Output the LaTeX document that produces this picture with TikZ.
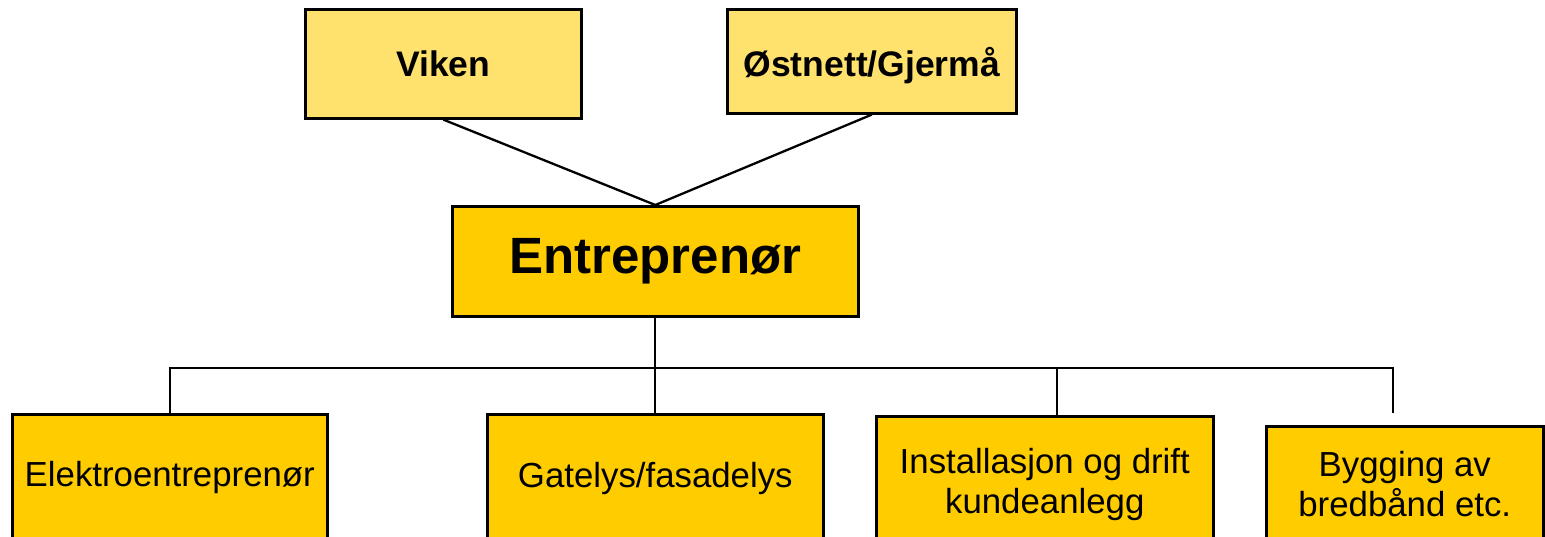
\documentclass[tikz,border=0pt]{standalone}
\usepackage{fontspec}
\setmainfont{Liberation Sans}
\definecolor{lightyel}{HTML}{FFE16E}
\definecolor{darkyel}{HTML}{FFCC00}
\begin{document}
\begin{tikzpicture}[x=1pt,y=-1pt,
  box/.style={draw=black, line width=2.6pt, inner sep=0pt, align=center, anchor=north west},
  topbox/.style={box, fill=lightyel, font=\fontsize{35.5}{40}\selectfont\bfseries},
  midbox/.style={box, fill=darkyel, font=\fontsize{51}{58}\selectfont\bfseries},
  lowbox/.style={box, fill=darkyel, font=\fontsize{34.8}{40}\selectfont},
  conn/.style={draw=black, line width=2.3pt}]
\useasboundingbox (0,0) rectangle (1545,537);
\clip (0,0) rectangle (1545,537);
\fill[white] (0,0) rectangle (1545,537);
\node[topbox, minimum width=276pt, minimum height=109pt] (viken) at (304,8) {Viken};
\node[topbox, minimum width=289pt, minimum height=104pt] (ost) at (726,8) {\raisebox{-4pt}[\height][\depth]{Østnett/Gjermå}};
\node[midbox, minimum width=406pt, minimum height=110pt] (ent) at (451,205) {Entreprenør};
\node[lowbox, minimum width=315pt, minimum height=126pt] (elek) at (11,413) {Elektroentreprenør};
\node[lowbox, minimum width=336pt, minimum height=128pt] (gat) at (486,413) {Gatelys/fasadelys};
\node[lowbox, minimum width=337pt, minimum height=136pt] (inst) at (875,415) {Installasjon og drift\\kundeanlegg};
\node[lowbox, minimum width=277pt, minimum height=116pt] (byg) at (1265,425) {Bygging av\\bredbånd etc.};
\coordinate (hl) at (168,368);
\coordinate (hr) at (1393,368);
\coordinate (bygend) at (1393,413);
\coordinate (insttop) at (1057,415);
\draw[conn] (viken.south) -- (ent.north);
\draw[conn] (ost.south) -- (ent.north);
\draw[conn] (ent.south) -- (gat.north);
\draw[conn] (elek.north) -- (elek.north |- hl) -- (hr) -- (bygend);
\draw[conn] (insttop) -- (insttop |- hl);
\end{tikzpicture}
\end{document}
